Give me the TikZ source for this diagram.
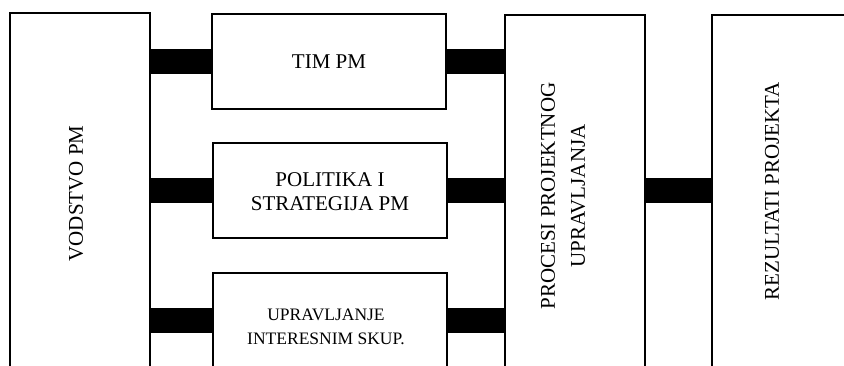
\documentclass[tikz,border=0pt]{standalone}
\usepackage{fontspec}
\setmainfont{Liberation Serif}
\begin{document}
\begin{tikzpicture}[x=1pt,y=-1pt,
  box/.style={draw,line width=1.8pt,inner sep=0pt,fill=white},
  bar/.style={line width=25pt,line cap=butt},
  lbl/.style={inner sep=0pt,align=center,font=\fontsize{21}{24}\selectfont},
  vlbl/.style={lbl,rotate=90}]
\useasboundingbox (0,0) rectangle (844,365);
\clip (0,0) rectangle (844,365);
% boxes
\node[box,minimum width=140pt,minimum height=387pt] (vod) at (80,206.5) {};
\node[box,minimum width=234pt,minimum height=95pt] (tim) at (329,61.5) {};
\node[box,minimum width=234pt,minimum height=95pt] (pol) at (330,190.5) {};
\node[box,minimum width=234pt,minimum height=95pt] (upr) at (330,320.5) {};
\node[box,minimum width=140pt,minimum height=385pt] (pro) at (575,207.5) {};
\node[box,minimum width=140pt,minimum height=385pt] (rez) at (782,207.5) {};
% bars
\draw[bar] (vod.east |- tim.west) -- (tim.west);
\draw[bar] (vod.east |- pol.west) -- (pol.west);
\draw[bar] (vod.east |- upr.west) -- (upr.west);
\draw[bar] (tim.east) -- (pro.west |- tim.east);
\draw[bar] (pol.east) -- (pro.west |- pol.east);
\draw[bar] (upr.east) -- (pro.west |- upr.east);
\draw[bar] (pro.east |- pol.east) -- (rez.west |- pol.east);
% labels
\node[vlbl] (tvod) at (76,193.5) {VODSTVO PM};
\node[lbl] (ttim) at (329,62) {TIM PM};
\node[lbl] (tpol) at (330,191.5) {POLITIKA I\\STRATEGIJA PM};
\node[lbl,font=\fontsize{17.5}{24}\selectfont] (tupr) at (326,326.5) {UPRAVLJANJE\\INTERESNIM SKUP.};
\node[vlbl,font=\fontsize{21}{30}\selectfont] (tpro) at (563,196) {PROCESI PROJEKTNOG\\UPRAVLJANJA};
\node[vlbl] (trez) at (772,191) {REZULTATI PROJEKTA};
\end{tikzpicture}
\end{document}
